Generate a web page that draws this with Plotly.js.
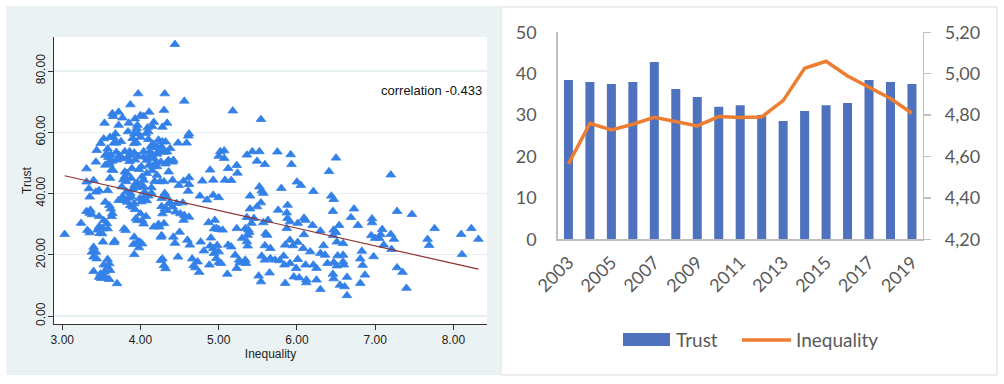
<!DOCTYPE html>
<html><head><meta charset="utf-8">
<script src="https://cdn.plot.ly/plotly-3.0.1.min.js"></script>
<style>html,body{margin:0;padding:0;background:#fff;} #chart{width:1004px;height:384px;}</style>
</head><body><div id="chart"></div>
<script>
// ---- Left panel: scatter of Trust vs Inequality ----
const scatterPairs = [
// 3.0 - 3.5
[3.03,26.7],[3.24,30.3],[3.31,43.8],[3.40,44.3],[3.34,41.6],[3.35,38.9],[3.43,40.5],[3.47,41.0],[3.31,48.1],[3.43,50.3],
[3.44,54.1],[3.49,56.4],[3.31,34.2],[3.35,33.6],[3.38,33.1],[3.36,34.6],[3.47,32.5],[3.32,28.0],[3.35,27.2],[3.45,28.1],
[3.47,29.2],[3.49,28.8],[3.48,27.0],[3.40,22.5],[3.43,20.9],[3.38,20.9],[3.40,19.3],[3.44,18.7],[3.40,14.6],[3.47,12.7],
[3.49,13.8],[3.50,12.3],
// 3.5 - 4.0
[3.53,31.2],[3.57,30.2],[3.52,28.5],[3.58,28.5],[3.51,26.9],[3.52,24.2],[3.58,41.0],[3.55,37.2],[3.60,36.1],[3.62,35.0],
[3.63,32.5],[3.67,24.5],[3.66,24.0],[3.79,28.5],[3.81,28.0],[3.54,14.4],[3.58,16.0],[3.60,17.1],[3.61,14.9],[3.55,12.7],
[3.60,12.0],[3.70,10.6],[3.58,18.5],[3.53,16.7],
[3.64,66.1],[3.72,66.6],[3.77,64.7],[3.72,62.3],[3.54,63.0],[3.65,65.2],[3.87,69.0],[3.68,59.5],[3.65,58.4],[3.53,57.9],
[3.61,58.4],[3.58,54.6],[3.66,56.5],[3.69,56.5],[3.55,52.5],[3.60,50.3],[3.64,50.6],[3.70,51.0],[3.77,51.4],[3.83,51.7],
[3.87,52.5],[3.57,52.9],[3.59,51.8],[3.62,52.6],[3.60,49.6],[3.55,49.3],[3.80,53.7],[3.86,53.7],[3.92,53.3],[3.97,52.2],
[3.73,52.4],[3.84,60.2],[3.93,64.4],[3.96,62.3],[3.92,59.5],[3.95,61.3],[3.97,59.6],[3.92,56.4],[3.95,56.6],[3.75,57.0],
[3.90,58.0],[3.85,63.0],[3.89,48.2],[3.80,47.1],[3.83,46.6],[3.63,47.7],[3.65,47.6],[3.61,45.0],[3.80,45.5],[3.82,43.9],
[3.93,43.0],[3.96,43.5],[3.76,42.2],[3.82,40.6],[3.87,40.1],[3.90,41.5],[3.78,44.5],[3.88,45.0],[3.86,50.5],[3.93,51.0],
[3.69,53.5],[3.72,37.8],[3.79,37.8],[3.83,37.2],[3.87,36.1],[3.90,35.6],[3.92,36.7],[3.77,39.0],[3.85,38.5],[3.88,39.0],
[3.95,42.0],[3.93,34.8],[3.94,31.8],[3.96,31.2],[3.64,33.5],[3.92,25.8],[3.96,24.2],[3.99,24.2],[3.98,22.3],[3.92,20.1],
[3.91,23.4],
// 4.0 - 4.5
[4.00,65.5],[4.04,65.2],[4.11,66.6],[4.17,63.3],[4.15,61.9],[4.09,61.5],[4.00,58.4],[3.97,72.6],[4.31,72.6],[4.30,67.2],
[4.28,61.7],[4.34,63.0],[4.10,60.2],[4.07,59.6],[4.10,57.7],[4.13,55.3],[4.16,56.2],[4.21,55.3],[4.24,54.2],[4.27,55.3],
[4.28,56.9],[4.32,56.9],[4.23,57.5],[4.20,55.0],[4.38,54.7],[4.34,53.6],[4.36,50.8],[4.41,50.3],[4.32,49.7],[4.26,50.3],
[4.14,52.6],[4.17,51.5],[4.21,52.9],[4.24,53.7],[4.12,53.8],[4.30,53.5],[4.04,53.7],[4.08,50.9],[4.11,49.3],[4.16,48.8],
[4.21,48.8],[4.04,52.0],[4.09,51.7],[4.15,47.5],[4.19,50.0],[4.36,47.1],[4.21,46.0],[4.08,46.6],[3.98,47.9],[4.01,48.8],
[4.04,44.4],[4.02,45.5],[4.01,42.7],[4.04,42.2],[4.14,41.9],[4.18,44.0],[4.25,43.9],[4.30,43.9],[4.41,44.4],[4.31,40.1],
[4.33,39.0],[4.27,38.4],[4.14,40.1],[4.05,40.5],[4.10,39.2],[4.04,38.7],[4.08,37.7],[3.99,38.4],[4.01,37.3],[4.27,35.8],
[4.31,35.0],[4.28,33.4],[4.34,34.5],[4.36,36.7],[4.41,35.6],[4.45,34.0],[4.46,36.8],[4.38,37.0],[4.00,33.4],[4.07,32.5],
[4.02,31.2],[4.04,30.1],[4.17,29.1],[4.24,29.1],[4.30,30.2],[4.23,30.0],[4.26,25.8],[4.27,26.3],[4.42,25.8],[4.44,23.8],
[4.50,27.4],[4.02,23.6],[4.26,18.2],[4.30,16.5],[4.32,15.5],[4.28,18.7],[4.48,19.3],[4.42,50.9],[4.35,50.6],
// 4.5 - 5.0
[4.44,88.7],[4.56,70.2],[4.62,59.5],[4.61,58.8],[4.48,56.5],[4.59,56.5],[4.55,44.1],[4.49,42.7],[4.62,45.2],[4.62,43.0],
[4.61,40.8],[4.54,37.0],[4.79,44.1],[4.89,47.7],[4.93,44.4],[4.76,39.2],[4.85,37.9],[4.93,39.5],[5.00,38.7],[4.51,33.4],
[4.56,32.9],[4.62,32.3],[4.55,31.3],[4.87,30.5],[4.95,31.3],[4.97,28.7],[4.94,28.5],[4.60,24.8],[4.63,23.2],[4.66,18.7],
[4.68,16.5],[4.70,15.8],[4.75,14.3],[4.77,24.2],[4.81,21.3],[4.90,25.5],[4.89,22.9],[4.93,22.1],[4.94,20.5],[4.88,16.7],
[4.98,23.1],[5.00,21.0],[4.97,18.8],[5.00,17.5],[5.03,17.2],[4.73,17.7],
// 5.0 - 6.0
[5.02,53.7],[5.07,54.0],[5.00,52.2],[5.07,51.5],[5.23,49.2],[5.24,46.7],[5.12,48.2],[5.16,44.3],[5.08,44.4],[5.36,52.6],
[5.43,53.7],[5.52,53.7],[5.49,50.6],[5.59,49.5],[5.75,53.6],[5.92,52.7],[5.93,49.5],[5.52,42.2],[5.55,40.9],[5.57,40.1],
[5.80,41.7],[5.40,39.2],[5.54,37.0],[5.49,35.7],[5.40,35.0],[5.76,34.6],[5.88,36.2],[5.87,33.7],[5.88,31.9],[5.91,30.8],
[5.87,28.6],[5.36,32.2],[5.45,31.9],[5.42,30.3],[5.57,30.5],[5.63,31.3],[5.34,28.6],[5.38,28.1],[5.37,26.4],[5.39,27.3],
[5.30,25.4],[5.36,24.3],[5.37,22.9],[5.23,28.6],[5.60,27.0],[5.62,26.4],[5.59,23.0],[5.66,22.1],[5.55,19.6],[5.59,18.3],
[5.66,18.8],[5.72,18.3],[5.78,18.1],[5.83,19.6],[5.84,16.7],[5.91,17.2],[5.85,23.2],[5.91,24.8],[5.95,23.0],[5.21,19.9],
[5.23,15.6],[5.26,18.3],[5.34,18.3],[5.35,17.2],[5.27,17.4],[5.51,13.1],[5.54,11.2],[5.65,14.1],[5.85,10.7],[5.12,23.2],
[5.16,22.6],[5.11,13.7],[5.05,28.1],[5.00,28.3],[5.18,67.0],[5.54,64.2],
// 6.0 - 7.0
[6.00,43.8],[6.05,42.7],[6.21,40.7],[6.44,39.2],[6.47,38.1],[6.46,34.2],[6.54,29.6],[6.47,28.1],[6.50,27.3],[6.30,27.8],
[6.46,26.3],[6.51,24.2],[6.59,23.7],[6.20,29.6],[6.09,32.0],[6.11,31.3],[6.01,30.3],[6.09,26.6],[6.01,24.1],[6.08,22.1],
[6.17,21.0],[6.34,23.0],[6.30,20.5],[6.36,19.9],[6.39,17.2],[6.52,19.7],[6.59,19.9],[6.47,17.5],[6.51,16.4],[6.59,17.7],
[6.60,16.7],[6.21,16.7],[6.25,15.6],[6.11,16.7],[6.01,18.5],[5.99,15.6],[5.96,12.8],[6.03,12.5],[6.12,11.8],[6.12,10.9],
[6.25,11.8],[6.46,13.7],[6.47,12.2],[6.64,12.7],[6.55,10.1],[6.61,9.6],[6.30,8.7],[6.64,6.7],[6.50,51.6],[6.41,47.2],
// 7.0 +
[7.20,46.1],[7.40,9.1],[7.47,33.2],[7.28,34.2],[7.76,28.6],[7.67,25.1],[7.69,23.1],[8.10,26.7],[8.11,20.1],[8.23,28.6],
[8.32,25.1],[6.73,35.0],[6.69,32.2],[6.78,29.6],[6.96,31.8],[6.96,30.5],[6.95,26.3],[7.00,25.4],[7.07,26.6],[7.09,28.3],
[7.05,25.4],[7.11,23.2],[7.20,26.7],[7.24,25.1],[7.21,21.8],[6.98,19.4],[6.83,21.2],[6.81,18.7],[6.84,16.6],[6.87,13.4],
[6.81,10.7],[7.28,15.8],[7.35,14.3]
];
const fitInequality = [3.03, 8.32];
const fitTrust = [45.8, 15.3];
const scatterXTicks = [3, 4, 5, 6, 7, 8];
const scatterYTicks = [0, 20, 40, 60, 80];
const correlationLabel = 'correlation -0.433';

// ---- Right panel: yearly Trust (bars) and Inequality (line) ----
const years = ['2003','2004','2005','2006','2007','2008','2009','2010','2011','2012','2013','2014','2015','2016','2017','2018','2019'];
const trustByYear = [38.5,38.0,37.5,38.0,42.8,36.3,34.4,32.0,32.4,30.0,28.6,31.0,32.4,32.9,38.5,38.0,37.5];
const inequalityByYear = [4.564,4.760,4.728,4.756,4.789,4.767,4.748,4.793,4.788,4.791,4.870,5.026,5.060,4.989,4.934,4.880,4.809];
const trustTicks = [0, 10, 20, 30, 40, 50];
const inequalityTickVals = [4.2, 4.4, 4.6, 4.8, 5.0, 5.2];
const inequalityTickText = ['4,20','4,40','4,60','4,80','5,00','5,20'];
const yearTicks = years.filter((y, i) => i % 2 === 0);

const W = 1004, H = 384;
const px = v => v / W;
const py = v => 1 - v / H;

const stataFont = 'Liberation Sans, Arial, sans-serif';
const excelFont = 'Lato, Open Sans, sans-serif';
const excelGrey = '#595959';
const triBlue = '#3381e8';
const barBlue = '#4f72bf';
const lineOrange = '#ed7d31';

const traces = [
  {
    type: 'scatter', mode: 'markers', xaxis: 'x', yaxis: 'y',
    x: scatterPairs.map(p => p[0]), y: scatterPairs.map(p => p[1]),
    marker: {symbol: 'triangle-up', size: 8.5, color: triBlue, line: {width: 0.8, color: triBlue}},
    hoverinfo: 'skip', showlegend: false
  },
  {
    type: 'scatter', mode: 'lines', xaxis: 'x', yaxis: 'y',
    x: fitInequality, y: fitTrust,
    line: {color: '#8f2f2f', width: 1.2}, hoverinfo: 'skip', showlegend: false
  },
  {
    type: 'bar', xaxis: 'x2', yaxis: 'y2', name: 'Trust',
    x: years, y: trustByYear, width: 0.42,
    marker: {color: barBlue}, hoverinfo: 'skip', showlegend: false
  },
  {
    type: 'scatter', mode: 'lines', xaxis: 'x2', yaxis: 'y3', name: 'Inequality',
    x: years, y: inequalityByYear,
    line: {color: lineOrange, width: 3.5}, hoverinfo: 'skip', showlegend: false
  }
];

const layout = {
  width: W, height: H,
  margin: {l: 0, r: 0, t: 0, b: 0, pad: 0},
  paper_bgcolor: '#ffffff', plot_bgcolor: '#ffffff',
  showlegend: false,
  xaxis: {
    domain: [px(54), px(487)], anchor: 'y', range: [2.894, 8.43],
    tickvals: scatterXTicks, tickformat: '.2f',
    ticks: 'outside', ticklen: 5, tickcolor: '#333', tickwidth: 1,
    showline: true, linecolor: '#333', linewidth: 1,
    showgrid: false, zeroline: false,
    tickfont: {family: stataFont, size: 12, color: '#222'},
    title: {text: 'Inequality', font: {family: stataFont, size: 12, color: '#222'}, standoff: 2},
    automargin: false
  },
  yaxis: {
    domain: [py(324), py(37)], anchor: 'x', range: [-2.6, 91.1],
    tickvals: scatterYTicks, tickformat: '.2f', tickangle: -90,
    ticks: 'outside', ticklen: 5, tickcolor: '#333', tickwidth: 1, ticklabelstandoff: -2,
    showline: true, linecolor: '#333', linewidth: 1,
    showgrid: true, gridcolor: '#e6eff1', gridwidth: 1.2, zeroline: false,
    tickfont: {family: stataFont, size: 12, color: '#222'},
    title: {text: 'Trust', font: {family: stataFont, size: 12, color: '#222'}, standoff: 0},
    automargin: false
  },
  xaxis2: {
    domain: [px(557.7), px(922.7)], anchor: 'y2', type: 'category',
    range: [-0.5, years.length - 0.5],
    tickvals: yearTicks, tickangle: -45,
    ticks: '', ticklabelstandoff: 4,
    showline: true, linecolor: '#bfbfbf', linewidth: 1.5,
    showgrid: false, zeroline: false,
    tickfont: {family: excelFont, size: 18, color: excelGrey},
    automargin: false
  },
  yaxis2: {
    domain: [py(239.3), py(32.3)], anchor: 'x2', range: [0, 50],
    tickvals: trustTicks, ticks: '', ticklabelstandoff: 16,
    showline: true, linecolor: '#bfbfbf', linewidth: 1.5,
    showgrid: false, zeroline: false,
    tickfont: {family: excelFont, size: 18, color: excelGrey},
    automargin: false
  },
  yaxis3: {
    overlaying: 'y2', anchor: 'x2', side: 'right', range: [4.2, 5.2],
    tickvals: inequalityTickVals, ticktext: inequalityTickText,
    ticks: 'outside', ticklen: 7, tickcolor: '#bfbfbf', tickwidth: 1.5, ticklabelstandoff: 10,
    showline: true, linecolor: '#bfbfbf', linewidth: 1.5,
    showgrid: false, zeroline: false,
    tickfont: {family: excelFont, size: 18, color: excelGrey},
    automargin: false
  },
  shapes: [
    // left (Stata) panel background
    {type: 'rect', xref: 'paper', yref: 'paper', layer: 'below',
     x0: px(6), x1: px(500), y0: py(375), y1: py(6),
     fillcolor: '#eaf2f3', line: {width: 0}},
    // left plot region (white)
    {type: 'rect', xref: 'paper', yref: 'paper', layer: 'below',
     x0: px(54), x1: px(487), y0: py(324), y1: py(37),
     fillcolor: '#ffffff', line: {width: 0}},
    // right (Excel) panel border
    {type: 'rect', xref: 'paper', yref: 'paper', layer: 'below',
     x0: px(501), x1: px(997), y0: py(375), y1: py(7),
     fillcolor: 'rgba(0,0,0,0)', line: {width: 1, color: '#d9d9d9'}},
    // legend keys
    {type: 'rect', xref: 'paper', yref: 'paper',
     x0: px(623), x1: px(670), y0: py(346), y1: py(333),
     fillcolor: barBlue, line: {width: 0}},
    {type: 'line', xref: 'paper', yref: 'paper',
     x0: px(742), x1: px(791), y0: py(340), y1: py(340),
     line: {width: 3.5, color: lineOrange}}
  ],
  annotations: [
    {xref: 'paper', yref: 'paper', x: px(484), y: py(90), xanchor: 'right', yanchor: 'middle',
     text: correlationLabel, showarrow: false, font: {family: stataFont, size: 13, color: '#111'}},
    {xref: 'paper', yref: 'paper', x: px(674), y: py(339), xanchor: 'left', yanchor: 'middle',
     text: 'Trust', showarrow: false, font: {family: excelFont, size: 19, color: excelGrey}},
    {xref: 'paper', yref: 'paper', x: px(794), y: py(339), xanchor: 'left', yanchor: 'middle',
     text: 'Inequality', showarrow: false, font: {family: excelFont, size: 19, color: excelGrey}}
  ]
};

Plotly.newPlot('chart', traces, layout, {staticPlot: true, displayModeBar: false});
</script>
</body></html>
